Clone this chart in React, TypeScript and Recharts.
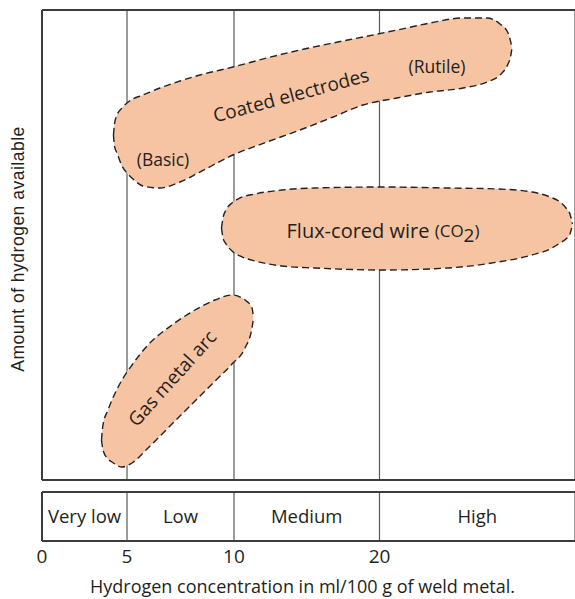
import React from 'react';
import {
  ComposedChart,
  Area,
  XAxis,
  YAxis,
  CartesianGrid,
  ReferenceLine,
  ReferenceArea,
  ReferenceDot,
  Label,
} from 'recharts';

// ---------- data (schematic units: x 0–100 across the plot, y 0–100 amount of hydrogen) ----------
const tickValues = [0, 15.95, 36.02, 63.32];
const tickLabels = ['0', '5', '10', '20'];
const bandEdges = [0, 15.95, 36.02, 63.32, 100];
const bandLabels = ['Very low', 'Low', 'Medium', 'High'];
const bandTop = -2.55;
const bandBottom = -12.98;

const coatedX = [13.41, 13.6, 14.07, 15.01, 15.95, 17.07, 18.95, 22.14, 25.89, 29.64, 35.83, 42.21, 48.41, 54.6, 60.23, 66.6, 72.8, 78.99, 83.49, 85.93, 87.43, 87.9, 88.18];
const coatedLow = [73.4, 71.06, 69.57, 66.81, 65.32, 64.04, 62.55, 62.13, 63.4, 65.53, 69.15, 71.91, 74.47, 77.23, 79.79, 81.28, 82.55, 83.4, 84.68, 86.17, 88.51, 90.0, 91.91];
const coatedHigh = [73.4, 75.74, 77.66, 79.15, 80.21, 81.06, 81.91, 83.4, 84.89, 86.17, 87.87, 89.79, 91.49, 92.98, 94.26, 95.74, 97.23, 98.3, 98.3, 97.02, 95.11, 93.4, 91.91];

const fluxX = [33.68, 33.96, 34.53, 35.65, 37.15, 39.96, 45.03, 51.22, 63.79, 76.17, 85.55, 91.93, 95.31, 97.19, 98.31, 99.06, 99.53];
const fluxLow = [53.62, 51.49, 50.21, 48.72, 47.66, 46.6, 45.53, 45.11, 44.68, 45.11, 46.38, 47.87, 49.15, 50.43, 51.28, 52.34, 54.47];
const fluxHigh = [53.62, 55.74, 57.45, 58.94, 60.0, 60.85, 61.7, 62.13, 62.34, 62.13, 61.91, 61.28, 60.21, 59.15, 57.87, 56.6, 54.47];

const gmaX = [11.16, 11.44, 12.38, 13.13, 15.01, 16.89, 19.89, 24.39, 28.71, 32.46, 35.65, 38.09, 39.4, 39.68];
const gmaLow = [8.51, 6.38, 4.47, 3.83, 2.77, 3.62, 6.81, 11.91, 16.81, 21.06, 24.68, 28.09, 32.34, 34.47];
const gmaHigh = [8.51, 11.7, 14.89, 17.02, 21.28, 24.47, 28.72, 32.98, 36.17, 38.3, 39.36, 38.3, 36.6, 34.47];

const regionLabels = [
  { x: 46.72, y: 81.91, text: 'Coated electrodes', size: 19, angle: -15 },
  { x: 74.11, y: 88.09, text: '(Rutile)', size: 17.5, angle: 0 },
  { x: 22.7, y: 68.3, text: '(Basic)', size: 17.5, angle: 0 },
  { x: 24.39, y: 21.7, text: 'Gas metal arc', size: 19, angle: -48 },
];
const fluxLabel = { x: 63.98, y: 53.19 };

const yTitle = 'Amount of hydrogen available';
const yTitleAt = { x: 0, y: 49.15 };
const xTitle = 'Hydrogen concentration in ml/100 g of weld metal.';

// ---------- styles ----------
const FONT = '"Open Sans", "Noto Sans", sans-serif';
const INK = '#231f20';
const BLOB_FILL = '#f6c4a2';
const BLOB_STROKE = '#222';
const BORDER = '#3c3c3c';
const GRID = '#5a5a5a';

function buildRows() {
  const rows: any[] = [];
  coatedX.forEach((x, i) => rows.push({ x, coated: [coatedLow[i], coatedHigh[i]] }));
  fluxX.forEach((x, i) => rows.push({ x, flux: [fluxLow[i], fluxHigh[i]] }));
  gmaX.forEach((x, i) => rows.push({ x, gma: [gmaLow[i], gmaHigh[i]] }));
  rows.sort((a, b) => a.x - b.x);
  return rows;
}

const centerOf = (vb: any) => ({ cx: vb.x + (vb.width || 0) / 2, cy: vb.y + (vb.height || 0) / 2 });

const makeText = (text: string, size: number, angle: number) => (props: any) => {
  const { cx, cy } = centerOf(props.viewBox);
  return (
    <text
      x={cx}
      y={cy}
      textAnchor="middle"
      dominantBaseline="central"
      transform={angle ? `rotate(${angle} ${cx} ${cy})` : undefined}
      fontFamily={FONT}
      fontSize={size}
      fill={INK}
    >
      {text}
    </text>
  );
};

const fluxContent = (props: any) => {
  const { cx, cy } = centerOf(props.viewBox);
  return (
    <text x={cx} y={cy} textAnchor="middle" dominantBaseline="central" fontFamily={FONT} fontSize={20} fill={INK}>
      Flux-cored wire <tspan fontSize={17}>(CO</tspan>
      <tspan fontSize={19} dy={5}>2</tspan>
      <tspan fontSize={17} dy={-5}>)</tspan>
    </text>
  );
};

const yTitleContent = (props: any) => {
  const { cx, cy } = centerOf(props.viewBox);
  const x = cx - 24;
  return (
    <text
      x={x}
      y={cy}
      textAnchor="middle"
      dominantBaseline="central"
      transform={`rotate(-90 ${x} ${cy})`}
      fontFamily='"Liberation Sans", Arial, sans-serif'
      fontSize={17.5}
      letterSpacing={0.5}
      fill={INK}
    >
      {yTitle}
    </text>
  );
};

const xTitleContent = (props: any) => {
  const vb = props.viewBox;
  return (
    <text x={vb.x + vb.width / 2 - 6} y={vb.y + 52} textAnchor="middle" fontFamily={FONT} fontSize={18} fill={INK}>
      {xTitle}
    </text>
  );
};

export default function App() {
  const data = buildRows();
  return (
    <div style={{ position: 'absolute', left: 0, top: 0, width: 575, height: 599, overflow: 'hidden', background: '#fff' }}>
      <ComposedChart width={575} height={599} data={data} margin={{ top: 10, right: 0, bottom: 0, left: 0 }}>
        <CartesianGrid horizontal={false} vertical stroke={GRID} strokeWidth={1.2} />
        <XAxis
          dataKey="x"
          type="number"
          domain={[0, 100]}
          allowDataOverflow
          ticks={tickValues}
          interval={0}
          tickFormatter={(v: number) => tickLabels[tickValues.indexOf(v)] ?? ''}
          axisLine={false}
          tickLine={false}
          tickSize={0}
          tickMargin={9}
          height={58}
          tick={{ fontSize: 19, fill: INK, fontFamily: FONT }}
          label={<Label content={xTitleContent} />}
        />
        <YAxis type="number" domain={[bandBottom, 100]} allowDataOverflow width={42} axisLine={false} tickLine={false} tick={false} />

        {/* gap between plot and band */}
        <ReferenceArea x1={-1} x2={101} y1={bandTop} y2={0} fill="#fff" fillOpacity={1} stroke="none" ifOverflow="visible" />

        {/* band labels */}
        {bandLabels.map((lab, i) => (
          <ReferenceArea
            key={lab}
            x1={bandEdges[i]}
            x2={bandEdges[i + 1]}
            y1={bandBottom}
            y2={bandTop}
            fill="none"
            stroke="none"
            label={{ value: lab, position: 'center', fontSize: 18.5, fill: INK, fontFamily: FONT }}
          />
        ))}

        {/* borders */}
        <ReferenceLine y={100} stroke={BORDER} strokeWidth={2} />
        <ReferenceLine y={0} stroke={BORDER} strokeWidth={2} />
        <ReferenceLine y={bandTop} stroke={BORDER} strokeWidth={2} />
        <ReferenceLine y={bandBottom} stroke={BORDER} strokeWidth={2} ifOverflow="visible" />
        <ReferenceLine segment={[{ x: 0, y: 0 }, { x: 0, y: 100 }]} stroke={BORDER} strokeWidth={2} />
        <ReferenceLine segment={[{ x: 0, y: bandBottom }, { x: 0, y: bandTop }]} stroke={BORDER} strokeWidth={2} ifOverflow="visible" />

        <Area dataKey="coated" type="monotone" connectNulls fill={BLOB_FILL} fillOpacity={1} stroke={BLOB_STROKE} strokeWidth={1.4} strokeDasharray="7 4" dot={false} activeDot={false} isAnimationActive={false} />
        <Area dataKey="flux" type="monotone" connectNulls fill={BLOB_FILL} fillOpacity={1} stroke={BLOB_STROKE} strokeWidth={1.4} strokeDasharray="7 4" dot={false} activeDot={false} isAnimationActive={false} />
        <Area dataKey="gma" type="monotone" connectNulls fill={BLOB_FILL} fillOpacity={1} stroke={BLOB_STROKE} strokeWidth={1.4} strokeDasharray="7 4" dot={false} activeDot={false} isAnimationActive={false} />

        {regionLabels.map((l) => (
          <ReferenceDot key={l.text} x={l.x} y={l.y} r={0} fill="none" stroke="none" label={<Label content={makeText(l.text, l.size, l.angle)} />} />
        ))}
        <ReferenceDot x={fluxLabel.x} y={fluxLabel.y} r={0} fill="none" stroke="none" label={<Label content={fluxContent} />} />
        <ReferenceDot x={yTitleAt.x} y={yTitleAt.y} r={0} fill="none" stroke="none" ifOverflow="visible" label={<Label content={yTitleContent} />} />
      </ComposedChart>
    </div>
  );
}
